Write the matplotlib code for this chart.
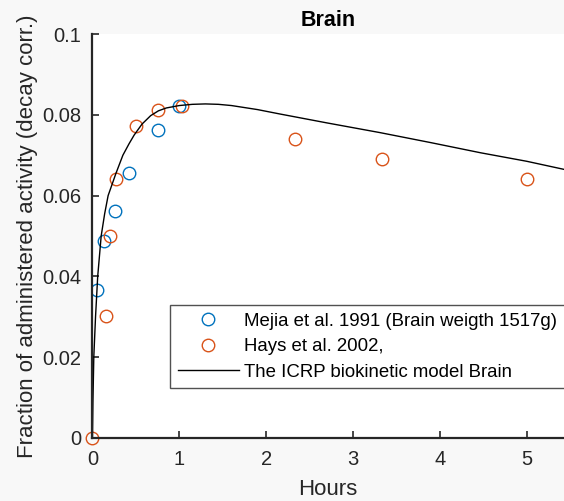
import matplotlib
matplotlib.use('Agg')
from matplotlib import pyplot as plt
from matplotlib.ticker import FuncFormatter

# Mejia et al. 1991
mejia_h = [0.054, 0.13, 0.255, 0.42, 0.75, 1.0]
mejia_f = [0.0366, 0.0487, 0.0563, 0.0655, 0.0762, 0.0822]

# Hays et al. 2002
hays_h = [0.0, 0.155, 0.205, 0.27, 0.5, 0.75, 1.03, 2.33, 3.33, 5.0]
hays_f = [0.0, 0.0302, 0.0501, 0.0641, 0.0772, 0.0812, 0.0822, 0.0741, 0.0691, 0.0640]

# ICRP biokinetic model curve
icrp_h = [0.0, 0.005, 0.015, 0.035, 0.06, 0.1, 0.14, 0.18, 0.27, 0.35, 0.42, 0.48,
          0.57, 0.67, 0.76, 0.85, 1.0, 1.15, 1.3, 1.45, 1.6, 1.9, 2.16, 2.7,
          3.31, 3.9, 4.47, 5.0, 5.45]
icrp_f = [0.0, 0.009, 0.020, 0.030, 0.040, 0.050, 0.0555, 0.060, 0.0655, 0.0700, 0.0728, 0.0750,
          0.0777, 0.0798, 0.0810, 0.0817, 0.0823, 0.0826, 0.0827, 0.0826, 0.0823, 0.0813, 0.0802, 0.0780,
          0.0756, 0.0731, 0.0706, 0.0685, 0.0664]

plt.rcParams['font.family'] = ['Liberation Sans', 'DejaVu Sans']

fig = plt.figure(figsize=(5.64, 5.01), dpi=100, facecolor='#f8f8f8')
ax = fig.add_axes([0.164, 0.126, 0.836, 0.806])
ax.set_facecolor('white')

blue = '#0072BD'
orange = '#D95319'

ax.plot(mejia_h, mejia_f, 'o', mfc='none', mec=blue, ms=9, mew=1,
        label='Mejia et al. 1991 (Brain weigth 1517g)')
ax.plot(hays_h, hays_f, 'o', mfc='none', mec=orange, ms=9, mew=1,
        label='Hays et al. 2002,', clip_on=False)
ax.plot(icrp_h, icrp_f, '-', color='black', lw=1,
        label='The ICRP biokinetic model Brain')

ax.set_xlim(0, 5.43)
ax.set_ylim(0, 0.1)
ax.set_xticks([0, 1, 2, 3, 4, 5])
ax.set_yticks([0, 0.02, 0.04, 0.06, 0.08, 0.1])
ax.yaxis.set_major_formatter(FuncFormatter(lambda v, p: '0' if v == 0 else ('%g' % v)))

for s in ['top', 'right']:
    ax.spines[s].set_visible(False)
for s in ['left', 'bottom']:
    ax.spines[s].set_color('#262626')
    ax.spines[s].set_linewidth(1.6)
ax.tick_params(direction='in', length=5, width=1.2, color='#262626',
               labelsize=14.5, labelcolor='#262626')
ax.tick_params(axis='x', pad=9)
ax.tick_params(axis='y', pad=8)

ax.set_xlabel('Hours', fontsize=16, color='#262626', labelpad=7)
ax.set_ylabel('Fraction of administered activity (decay corr.)', fontsize=16,
              color='#262626', labelpad=3)
ax.set_title('Brain', fontsize=15.5, fontweight='bold', pad=6)

leg = ax.legend(loc='upper left', bbox_to_anchor=(0.164, 0.329), borderaxespad=0,
                fontsize=13.4, frameon=True, fancybox=False, handlelength=3.3,
                handletextpad=0.27, labelspacing=0.45, borderpad=0.42)
leg.get_frame().set_edgecolor('#262626')
leg.get_frame().set_linewidth(1)

fig.savefig('out.png', dpi=100, facecolor=fig.get_facecolor())
